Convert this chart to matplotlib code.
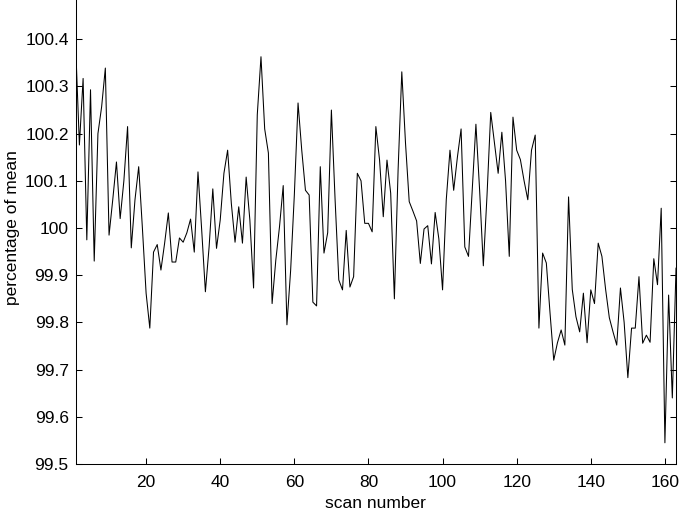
import numpy as np
import matplotlib
matplotlib.use("Agg")
import matplotlib.pyplot as plt

# percentage of mean, one value per scan
pct = [
    100.384, 100.176, 100.317, 99.975, 100.293, 99.93, 100.20, 100.257, 100.339, 99.985,
    100.06, 100.14, 100.02, 100.10, 100.215, 99.958, 100.06, 100.13, 100.0, 99.862,
    99.788, 99.949, 99.965, 99.911, 99.968, 100.032, 99.928, 99.928, 99.979, 99.97,
    99.99, 100.019, 99.949, 100.119, 99.996, 99.865, 99.96, 100.083, 99.957, 100.017,
    100.116, 100.165, 100.052, 99.97, 100.045, 99.968, 100.108, 100.017, 99.873, 100.24,
    100.363, 100.21, 100.159, 99.84, 99.932, 100.003, 100.09, 99.795, 99.91, 100.07,
    100.265, 100.165, 100.08, 100.07, 99.843, 99.835, 100.13, 99.947, 99.99, 100.25,
    100.06, 99.89, 99.869, 99.995, 99.875, 99.897, 100.116, 100.10, 100.01, 100.01,
    99.992, 100.215, 100.144, 100.024, 100.144, 100.074, 99.85, 100.123, 100.331, 100.18,
    100.056, 100.036, 100.015, 99.925, 99.998, 100.005, 99.924, 100.033, 99.977, 99.869,
    100.06, 100.165, 100.08, 100.15, 100.21, 99.96, 99.94, 100.08, 100.22, 100.08,
    99.92, 100.07, 100.245, 100.18, 100.116, 100.203, 100.10, 99.94, 100.235, 100.165,
    100.145, 100.10, 100.06, 100.165, 100.197, 99.788, 99.947, 99.926, 99.82, 99.72,
    99.757, 99.784, 99.752, 100.066, 99.87, 99.812, 99.78, 99.862, 99.757, 99.869,
    99.84, 99.968, 99.94, 99.87, 99.81, 99.78, 99.752, 99.873, 99.80, 99.683,
    99.788, 99.788, 99.897, 99.756, 99.773, 99.758, 99.935, 99.88, 100.042, 99.545,
    99.858, 99.64, 99.915,
]
scan = np.arange(1, len(pct) + 1)

xticks = [20, 40, 60, 80, 100, 120, 140, 160]
yticks = [99.5, 99.6, 99.7, 99.8, 99.9, 100.0, 100.1, 100.2, 100.3, 100.4]
ytick_labels = ["99.5", "99.6", "99.7", "99.8", "99.9", "100", "100.1", "100.2", "100.3", "100.4"]

plt.rcParams['font.family'] = ['Liberation Sans', 'DejaVu Sans']
plt.rcParams['font.size'] = 12.5

fig = plt.figure(figsize=(6.85, 5.18), dpi=100)
# top of the axes sits just above the picture (cropped like the original)
ax = fig.add_axes([0.1105, 0.1042, 0.8764, 0.9111])

ax.plot(scan, pct, color='black', lw=0.75)

ax.set_xlim(1, 163)
ax.set_ylim(99.5, 100.5)
ax.set_xticks(xticks)
ax.set_yticks(yticks)
ax.set_yticklabels(ytick_labels)
ax.tick_params(direction='in', length=4, width=0.75, top=True, right=True)
ax.tick_params(axis='y', pad=5)
ax.tick_params(axis='x', pad=8)
for s in ax.spines.values():
    s.set_linewidth(0.75)

ax.set_xlabel("scan number")
ax.set_ylabel("percentage of mean")
ax.xaxis.set_label_coords(0.5, -0.068)
ax.yaxis.set_label_coords(-0.093, 0.5)

fig.savefig("out.png", dpi=100)
